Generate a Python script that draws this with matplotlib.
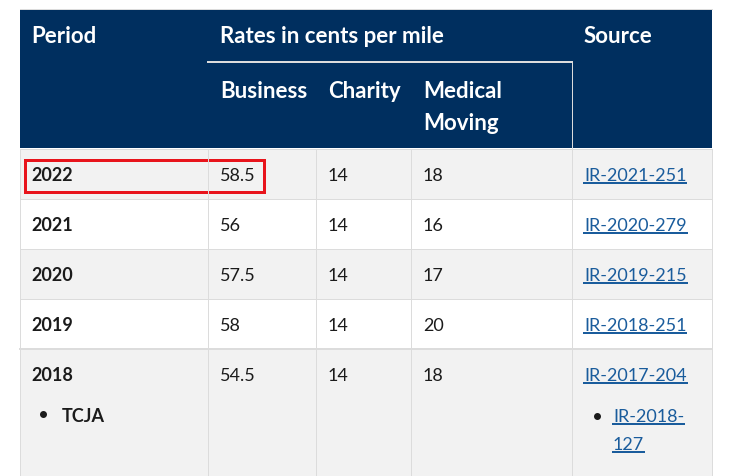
import matplotlib
matplotlib.use("Agg")
import matplotlib.pyplot as plt
from matplotlib.patches import Rectangle

# table content
periods = ["2022", "2021", "2020", "2019", "2018"]
business = ["58.5", "56", "57.5", "58", "54.5"]
charity = ["14", "14", "14", "14", "14"]
medical = ["18", "16", "17", "20", "18"]
sources = ["IR-2021-251", "IR-2020-279", "IR-2019-215", "IR-2018-251", "IR-2017-204"]
period_note = "TCJA"
extra_source = ["IR-2018-", "127"]

NAVY = "#002f5f"
GRID = "#dcdcdc"
ROW_GRAY = "#f2f2f2"
TEXT = "#1b1b1b"
LINK = "#1a5c9c"

FONT = "Lato"
FS_HEAD = 16
FS = 13

W, H = 737, 477
fig = plt.figure(figsize=(W / 100, H / 100), dpi=100)
ax = fig.add_axes([0, 0, 1, 1])
ax.set_xlim(0, W)
ax.set_ylim(H, 0)
ax.axis("off")

col_x = [20, 208, 316, 411, 572, 712]
head_top, head_bot = 10, 149
row_tops = [150, 200, 250, 300, 350]
row_bots = [200, 250, 300, 350, H + 5]
pad = 11
px = 0.72  # one pixel in points

# header block
ax.add_patch(Rectangle((col_x[0], head_top), col_x[-1] - col_x[0], head_bot - head_top,
                       facecolor=NAVY, edgecolor="none"))
ax.plot([col_x[1], col_x[4]], [63, 63], color=GRID, lw=2 * px)
ax.plot([col_x[4], col_x[4]], [63, head_bot], color=GRID, lw=px)
ax.plot([col_x[0], col_x[-1]], [head_top, head_top], color=GRID, lw=px)

hdr = dict(color="white", fontsize=FS_HEAD, fontweight="bold", family=FONT, va="baseline")
ax.text(col_x[0] + pad, 43, "Period", **hdr)
ax.text(col_x[1] + pad + 1, 43, "Rates in cents per mile", **hdr)
ax.text(col_x[4] + pad + 1, 43, "Source", **hdr)
ax.text(col_x[1] + pad + 1, 98, "Business", **hdr)
ax.text(col_x[2] + pad + 1, 98, "Charity", **hdr)
ax.text(col_x[3] + pad + 1, 98, "Medical", **hdr)
ax.text(col_x[3] + pad + 1, 130, "Moving", **hdr)

# body rows
for i, (top, bot) in enumerate(zip(row_tops, row_bots)):
    fc = ROW_GRAY if i % 2 == 0 else "white"
    ax.add_patch(Rectangle((col_x[0], top), col_x[-1] - col_x[0], bot - top,
                           facecolor=fc, edgecolor="none"))
    lw = 2 * px if i == 4 else px
    ax.plot([col_x[0], col_x[-1]], [top, top], color=GRID, lw=lw)

for x in col_x:
    ax.plot([x, x], [head_bot + 1, H + 5], color=GRID, lw=px)

fig.canvas.draw()
renderer = fig.canvas.get_renderer()
inv = ax.transData.inverted()


def link(x, y, s):
    t = ax.text(x, y, s, color=LINK, fontsize=FS, family=FONT, va="baseline")
    bb = t.get_window_extent(renderer)
    x0, _ = inv.transform((bb.x0, 0))
    x1, _ = inv.transform((bb.x1, 0))
    ax.plot([x0, x1], [y + 2.5, y + 2.5], color=LINK, lw=2 * px)


body = dict(color=TEXT, fontsize=FS, family=FONT, va="baseline")
for i, top in enumerate(row_tops):
    base = top + 31
    ax.text(col_x[0] + pad, base, periods[i], fontweight="bold", **body)
    ax.text(col_x[1] + pad + 1, base, business[i], **body)
    ax.text(col_x[2] + pad + 1, base, charity[i], **body)
    ax.text(col_x[3] + pad + 1, base, medical[i], **body)
    link(col_x[4] + pad + 1, base, sources[i])

# extra lines in the 2018 row
ax.plot([43], [415], "o", color=TEXT, ms=4)
ax.text(62, 422, period_note, fontweight="bold", **body)
ax.plot([597], [417], "o", color=TEXT, ms=4)
link(613, 422, extra_source[0])
link(613, 450, extra_source[1])

# red highlight box around 2022 business rate
ax.add_patch(Rectangle((25, 161), 239, 32, facecolor="none", edgecolor="#e8141c", lw=3 * px))

fig.savefig("out.png", dpi=100)
